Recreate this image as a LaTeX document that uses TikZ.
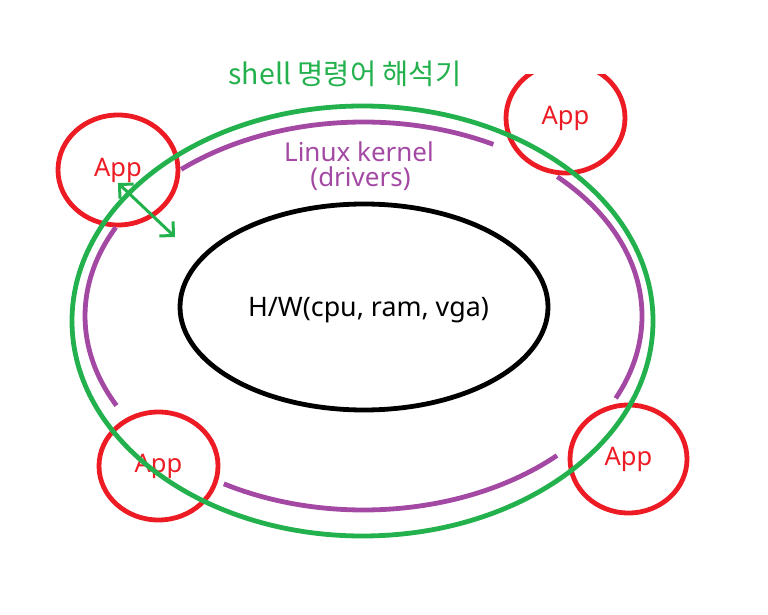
\documentclass[tikz,border=0pt]{standalone}
\usepackage{fontspec}
\setmainfont{Noto Sans}
\newfontfamily\krfont{Noto Sans CJK KR}
\usetikzlibrary{shapes.geometric,arrows.meta}
\definecolor{pgreen}{RGB}{34,177,76}
\definecolor{pred}{RGB}{237,28,36}
\definecolor{ppurple}{RGB}{163,73,164}
\tikzset{myb/.tip={Straight Barb[length=10pt,width=20pt]}}
\begin{document}
\begin{tikzpicture}[x=1pt,y=1pt,
  ring/.style={line width=4.8pt},
  app/.style={draw=pred, ring, ellipse, inner sep=0pt, text=pred,
    font=\fontsize{25.5}{27}\selectfont},
  lbl/.style={anchor=base, inner sep=0pt, font=\fontsize{26}{28}\selectfont}]
\useasboundingbox (0,0) rectangle (768,614);
% App circles
\node[app, minimum width=120pt, minimum height=110pt] (app1) at (118,444) {App};
\begin{scope}
  \clip (0,0) rectangle (768,539);
  \node[app, minimum width=119pt, minimum height=110pt] (app2) at (565.5,496) {App};
\end{scope}
\node[app, minimum width=119pt, minimum height=108pt] (app3) at (158.5,148) {App};
\node[app, minimum width=117pt, minimum height=108pt] (app4) at (628.5,155) {App};
% shell ring
\node[draw=pgreen, ring, ellipse, inner sep=0pt, minimum width=581pt, minimum height=430pt] (shellring) at (362.5,293) {};
% kernel ring (arcs)
\begin{scope}[ppurple, ring]
  \draw (363.5,298) ++(62.2:278.5 and 194) arc[start angle=62.2, end angle=130.9, x radius=278.5, y radius=194];
  \draw (363.5,298) ++(-25.1:278.5 and 194) arc[start angle=-25.1, end angle=45.9, x radius=278.5, y radius=194];
  \draw (363.5,298) ++(-120.1:278.5 and 194) arc[start angle=-120.1, end angle=-46, x radius=278.5, y radius=194];
  \draw (363.5,298) ++(152.8:278.5 and 194) arc[start angle=152.8, end angle=207.5, x radius=278.5, y radius=194];
\end{scope}
% hardware
\node[draw=black, ring, ellipse, inner sep=0pt, minimum width=368pt, minimum height=206pt] (hw) at (364,307) {};
\node[lbl, font=\fontsize{26.8}{28}\selectfont] (hwtxt) at (368.5,297.3) {H/W(cpu, ram, vga)};
% labels
\node[lbl, text=pgreen, font=\krfont\fontsize{28.5}{30}\selectfont] (shelltxt) at (345,529) {shell 명령어 해석기};
\node[lbl, text=ppurple] (kern1) at (359,452) {Linux kernel};
\node[lbl, text=ppurple] (kern2) at (360.5,427) {(drivers)};
% arrow
\coordinate (a1) at (118,431);
\coordinate (a2) at (175,377);
\draw[pgreen, line width=3pt, myb-myb] (a1) -- (a2);
\end{tikzpicture}
\end{document}
